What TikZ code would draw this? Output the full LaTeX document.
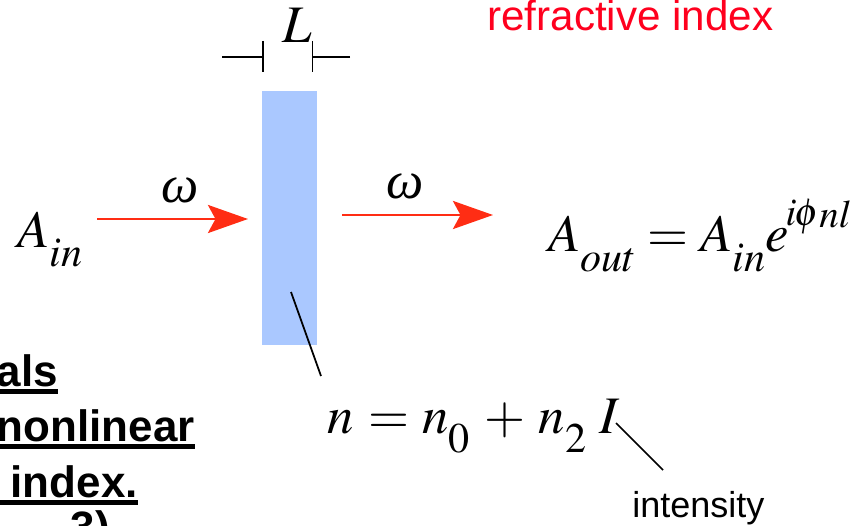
\documentclass[tikz,border=0pt]{standalone}
\usepackage{mathptmx}
\usepackage[no-math]{fontspec}
\setmainfont{Liberation Serif}
\setsansfont{Liberation Sans}
\usetikzlibrary{arrows.meta}
\definecolor{slabblue}{RGB}{170,200,255}
\definecolor{beamred}{RGB}{255,45,20}
\definecolor{labelred}{RGB}{255,0,30}
\def\mathsize{\fontsize{30}{36}\selectfont}
\newcommand\dsub[1]{\lower 11pt\hbox{\fontsize{24}{28}\selectfont$#1$}}

\begin{document}
\begin{tikzpicture}[
    beam/.style={draw=beamred, line width=1.7pt,
        -{Stealth[length=0.8cm, width=0.56cm, inset=0.15cm]}},
    big/.style={font=\mathsize, inner sep=0pt},
    headline/.style={font=\sffamily\bfseries\fontsize{25}{30}\selectfont,
        anchor=base east, inner sep=0pt},
    uline/.style={line width=2.4pt}
]
    \useasboundingbox (0,0) rectangle (17,10.5);

    % the slab
    \node [fill=slabblue, inner sep=0pt, minimum width=1.1cm,
        minimum height=5.08cm] (slab) at (5.79,6.14) {};
    \coordinate (tipL) at (5.26,9.36);
    \coordinate (tipR) at (6.25,9.36);
    \coordinate (endL) at (4.44,9.36);
    \coordinate (endR) at (7.0,9.36);
    \draw [line width=1pt] (endL) -- (tipL);
    \draw [line width=1pt] (endR) -- (tipR);
    \draw [line width=1pt] ([yshift=0.32cm]tipL) -- ([yshift=-0.3cm]tipL);
    \draw [line width=1pt] ([yshift=0.32cm]tipR) -- ([yshift=-0.3cm]tipR);
    \node [big, anchor=base west] (L) at (5.64,9.64) {$L$};

    % beams
    \node [big, anchor=base west] (Ain) at (0.34,5.56) {$A\dsub{in}$};
    \coordinate (in1) at (1.94,6.12);
    \coordinate (in2) at (4.96,6.12);
    \coordinate (out1) at (6.84,6.2);
    \coordinate (out2) at (9.86,6.2);
    \draw [beam] (in1) -- node [big, pos=0.55, above=0.28cm] (w1) {\textit{ω}} (in2);
    \draw [beam] (out1) -- node [big, pos=0.42, above=0.28cm] (w2) {\textit{ω}} (out2);
    \node [big, anchor=base west] (Aout) at (10.96,5.46)
        {$A\dsub{out} = A\dsub{in}e\kern-2pt\raise 15pt\hbox{$\scriptstyle i\kern-1pt\phi\lower 1pt\hbox{$\scriptstyle nl$}$}$};

    % index
    \node [font=\sffamily\fontsize{24}{29}\selectfont, text=labelred,
        anchor=base west, inner sep=0pt] (refr) at (9.74,9.88) {refractive index};
    \node [big, anchor=base west] (nI) at (6.54,1.84)
        {$n\mskip5mu{=}\mskip4.5mu n\dsub{0}\mskip5mu{+}\mskip4.5mu n\dsub{2}\mskip4.5mu I$};
    \coordinate (p1) at (5.82,4.66);
    \coordinate (p2) at (6.42,2.98);
    \draw [line width=1pt] (p1) -- (p2);
    \coordinate (q1) at (12.32,2.04);
    \coordinate (q2) at (13.26,1.1);
    \draw [line width=1pt] (q1) -- (q2);
    \node [font=\sffamily\fontsize{20.5}{25}\selectfont, anchor=base west,
        inner sep=0pt] (inten) at (12.64,0.16) {intensity};

    % text on the left
    \node [headline] (t1) at (1.16,2.78) {als};
    \node [headline] (t2) at (3.9,1.68) {nonlinear};
    \node [headline] (t3) at (2.76,0.56) {index.};
    \node [headline] (t4) at (2.2,-0.34) {3)};
    \draw [uline] ([xshift=-1cm, yshift=-0.11cm]t1.base west) -- ([yshift=-0.11cm]t1.base east);
    \draw [uline] ([xshift=-1cm, yshift=-0.11cm]t2.base west) -- ([yshift=-0.11cm]t2.base east);
    \draw [uline] ([xshift=-1cm, yshift=-0.11cm]t3.base west) -- ([yshift=-0.11cm]t3.base east);
\end{tikzpicture}
\end{document}
